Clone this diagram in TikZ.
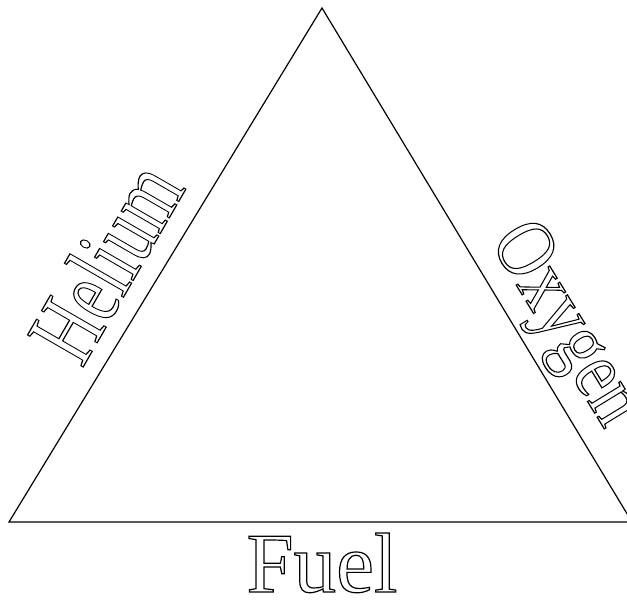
\documentclass[tikz,border=0pt]{standalone}
\usepackage{fontspec}
\setmainfont{Liberation Serif}
\tikzset{
  side/.style={line width=1.2pt},
  outlined/.style={inner sep=0pt},
}
\newcommand{\hollow}[1]{{\special{pdf:literal direct 1 Tr 1.2 w}#1\special{pdf:literal direct 0 Tr}}}
\begin{document}
\begin{tikzpicture}[x=1pt,y=1pt]
\useasboundingbox (0,0) rectangle (627,605);
\begin{scope}
\clip (0,0) rectangle (627,605);
\coordinate (A) at (322,597);
\coordinate (L) at (9,83);
\coordinate (R) at (632,83);
\draw[side, line join=miter] (L) -- (A) -- (R) -- cycle;
\end{scope}
\node[outlined, anchor=base, font=\fontsize{85}{85}\selectfont] (fuel) at (322,13) {\hollow{Fuel}};
\node[outlined, anchor=base west, rotate=60, font=\fontsize{98}{98}\selectfont] (helium) at (82,236) {\hollow{\scalebox{0.71}[1]{Helium}}};
\node[outlined, anchor=base east, rotate=-58.5, font=\fontsize{84}{84}\selectfont] (oxygen) at (605,175) {\hollow{\scalebox{0.83}[1]{Oxygen}}};
\end{tikzpicture}
\end{document}
